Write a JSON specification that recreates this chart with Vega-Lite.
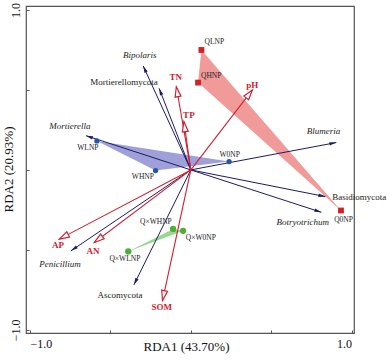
{
  "$schema": "https://vega.github.io/schema/vega-lite/v6.json",
  "width": 328,
  "height": 327,
  "autosize": "none",
  "padding": {"left": 26, "top": 6, "right": 35, "bottom": 30},
  "background": "white",
  "config": {
    "view": {"stroke": "#555", "strokeWidth": 1.2},
    "font": "Liberation Serif",
    "text": {"font": "Liberation Serif"}
  },
  "datasets": {
    "species": [
      {"name": "Bipolaris", "kind": "genus", "x": -0.296, "y": 0.65, "lx": -0.317, "ly": 0.719},
      {"name": "Mortierellomycota", "kind": "phylum", "x": -0.197, "y": 0.51, "lx": -0.416, "ly": 0.55},
      {"name": "Mortierella", "kind": "genus", "x": -0.652, "y": 0.214, "lx": -0.752, "ly": 0.275},
      {"name": "Blumeria", "kind": "genus", "x": 0.905, "y": 0.171, "lx": 0.826, "ly": 0.244},
      {"name": "Basidiomycota", "kind": "phylum", "x": 0.837, "y": -0.167, "lx": 1.047, "ly": -0.169},
      {"name": "Botryotrichum", "kind": "genus", "x": 0.812, "y": -0.265, "lx": 0.696, "ly": -0.325},
      {"name": "Penicillium", "kind": "genus", "x": -0.745, "y": -0.506, "lx": -0.814, "ly": -0.588},
      {"name": "Ascomycota", "kind": "phylum", "x": -0.354, "y": -0.719, "lx": -0.441, "ly": -0.781}
    ],
    "env": [
      {"name": "TN", "x": -0.09, "y": 0.52, "lx": -0.093, "ly": 0.584},
      {"name": "TP", "x": -0.043, "y": 0.302, "lx": -0.012, "ly": 0.344},
      {"name": "pH", "x": 0.383, "y": 0.5, "lx": 0.382, "ly": 0.531},
      {"name": "AP", "x": -0.818, "y": -0.433, "lx": -0.826, "ly": -0.469},
      {"name": "AN", "x": -0.6, "y": -0.454, "lx": -0.609, "ly": -0.506},
      {"name": "SOM", "x": -0.176, "y": -0.817, "lx": -0.18, "ly": -0.856}
    ],
    "sites": [
      {"name": "WLNP", "group": "W", "i": 1, "x": -0.584, "y": 0.181, "lx": -0.64, "ly": 0.1375},
      {"name": "W0NP", "group": "W", "i": 2, "x": 0.238, "y": 0.052, "lx": 0.242, "ly": 0.094},
      {"name": "WHNP", "group": "W", "i": 3, "x": -0.219, "y": -0.004, "lx": -0.298, "ly": -0.044},
      {"name": "QLNP", "group": "Q", "i": 1, "x": 0.066, "y": 0.75, "lx": 0.146, "ly": 0.8},
      {"name": "Q0NP", "group": "Q", "i": 2, "x": 0.934, "y": -0.254, "lx": 0.95, "ly": -0.3125},
      {"name": "QHNP", "group": "Q", "i": 3, "x": 0.045, "y": 0.546, "lx": 0.127, "ly": 0.5875},
      {"name": "Q×WHNP", "group": "QW", "i": 1, "x": -0.11, "y": -0.369, "lx": -0.217, "ly": -0.323},
      {"name": "Q×W0NP", "group": "QW", "i": 2, "x": -0.048, "y": -0.381, "lx": 0.062, "ly": -0.423},
      {"name": "Q×WLNP", "group": "QW", "i": 3, "x": -0.389, "y": -0.51, "lx": -0.41, "ly": -0.556}
    ]
  },
  "layer": [
    {
      "data": {"name": "sites"},
      "transform": [{"filter": "datum.group == 'W'"}],
      "mark": {"type": "line", "fill": "#8e8ed2", "fillOpacity": 0.85, "strokeOpacity": 0},
      "encoding": {
        "x": {
          "field": "x", "type": "quantitative",
          "scale": {"domain": [-1.025, 1.015], "nice": false, "zero": false},
          "axis": {
            "title": "RDA1 (43.70%)", "values": [-1, -0.5, 0, 0.5, 1],
            "labelExpr": "datum.value == 1 ? '1.0' : datum.value == -1 ? '\u22121.0' : ''",
            "grid": false, "domain": false, "ticks": true, "tickSize": -3, "tickColor": "#555", "tickWidth": 1,
            "labelFont": "Liberation Serif", "labelFontSize": 12, "labelColor": "#111",
            "labelBaseline": "alphabetic", "labelPadding": 17, "labelFlush": 8,
            "titleFont": "Liberation Serif", "titleFontSize": 13, "titleFontWeight": "normal", "titleColor": "#111",
            "titleX": 160, "titleY": 17, "titleBaseline": "alphabetic", "titleAlign": "center"
          }
        },
        "y": {
          "field": "y", "type": "quantitative",
          "scale": {"domain": [-1.02, 1.025], "nice": false, "zero": false},
          "axis": {
            "title": "RDA2 (20.93%)", "values": [-1, -0.5, 0, 0.5, 1],
            "labelExpr": "datum.value == 1 ? '1.0' : datum.value == -1 ? '\u22121.0' : ''",
            "grid": false, "domain": false, "ticks": true, "tickSize": -3, "tickColor": "#555", "tickWidth": 1,
            "labelFont": "Liberation Serif", "labelFontSize": 12, "labelColor": "#111",
            "labelAngle": -90, "labelBaseline": "alphabetic", "labelPadding": 10, "labelFlush": 8,
            "titleFont": "Liberation Serif", "titleFontSize": 13, "titleFontWeight": "normal", "titleColor": "#111",
            "titleX": -14, "titleY": 163, "titleAngle": -90, "titleBaseline": "alphabetic", "titleAlign": "center"
          }
        },
        "order": {"field": "i", "type": "quantitative"}
      }
    },
    {
      "data": {"name": "sites"},
      "transform": [{"filter": "datum.group == 'Q'"}],
      "mark": {"type": "line", "fill": "#ef8f8f", "fillOpacity": 0.9, "strokeOpacity": 0},
      "encoding": {
        "x": {"field": "x", "type": "quantitative", "scale": {"domain": [-1.025, 1.015], "nice": false, "zero": false}},
        "y": {"field": "y", "type": "quantitative", "scale": {"domain": [-1.02, 1.025], "nice": false, "zero": false}},
        "order": {"field": "i", "type": "quantitative"}
      }
    },
    {
      "data": {"name": "sites"},
      "transform": [{"filter": "datum.group == 'QW'"}],
      "mark": {"type": "line", "fill": "#8fd68a", "fillOpacity": 0.95, "strokeOpacity": 0},
      "encoding": {
        "x": {"field": "x", "type": "quantitative", "scale": {"domain": [-1.025, 1.015], "nice": false, "zero": false}},
        "y": {"field": "y", "type": "quantitative", "scale": {"domain": [-1.02, 1.025], "nice": false, "zero": false}},
        "order": {"field": "i", "type": "quantitative"}
      }
    },
    {
      "mark": {"type": "rule", "color": "#b0b0b0", "strokeWidth": 0.8},
      "encoding": {
        "x": {"datum": 0, "type": "quantitative", "scale": {"domain": [-1.025, 1.015], "nice": false, "zero": false}}
      }
    },
    {
      "mark": {"type": "rule", "color": "#b0b0b0", "strokeWidth": 0.8},
      "encoding": {
        "y": {"datum": 0, "type": "quantitative", "scale": {"domain": [-1.02, 1.025], "nice": false, "zero": false}}
      }
    },
    {
      "data": {"name": "species"},
      "mark": {"type": "rule", "color": "#1b1b66", "strokeWidth": 1},
      "encoding": {
        "x": {"field": "x", "type": "quantitative", "scale": {"domain": [-1.025, 1.015], "nice": false, "zero": false}},
        "y": {"field": "y", "type": "quantitative", "scale": {"domain": [-1.02, 1.025], "nice": false, "zero": false}},
        "x2": {"datum": 0},
        "y2": {"datum": 0}
      }
    },
    {
      "data": {"name": "env"},
      "mark": {"type": "rule", "color": "#d0222e", "strokeWidth": 1.1},
      "encoding": {
        "x": {"field": "x", "type": "quantitative", "scale": {"domain": [-1.025, 1.015], "nice": false, "zero": false}},
        "y": {"field": "y", "type": "quantitative", "scale": {"domain": [-1.02, 1.025], "nice": false, "zero": false}},
        "x2": {"datum": 0},
        "y2": {"datum": 0}
      }
    },
    {
      "data": {"name": "species"},
      "transform": [{"calculate": "90 - atan2(datum.y * 160, datum.x * 161) * 180 / PI", "as": "ang"}],
      "mark": {"type": "point", "shape": "M0,0L-0.45,1.8L0.45,1.8Z", "size": 60, "filled": true, "color": "#1b1b66", "opacity": 1, "strokeWidth": 0},
      "encoding": {
        "x": {"field": "x", "type": "quantitative", "scale": {"domain": [-1.025, 1.015], "nice": false, "zero": false}},
        "y": {"field": "y", "type": "quantitative", "scale": {"domain": [-1.02, 1.025], "nice": false, "zero": false}},
        "angle": {"field": "ang", "type": "quantitative", "scale": null}
      }
    },
    {
      "data": {"name": "env"},
      "transform": [{"calculate": "90 - atan2(datum.y * 160, datum.x * 161) * 180 / PI", "as": "ang"}],
      "mark": {"type": "point", "shape": "M0,0L-0.5,1.7L0.5,1.7Z", "size": 140, "filled": false, "fill": "white", "fillOpacity": 1, "stroke": "#d0222e", "strokeWidth": 1.2, "opacity": 1},
      "encoding": {
        "x": {"field": "x", "type": "quantitative", "scale": {"domain": [-1.025, 1.015], "nice": false, "zero": false}},
        "y": {"field": "y", "type": "quantitative", "scale": {"domain": [-1.02, 1.025], "nice": false, "zero": false}},
        "angle": {"field": "ang", "type": "quantitative", "scale": null}
      }
    },
    {
      "data": {"name": "sites"},
      "mark": {"type": "point", "filled": true, "opacity": 1},
      "encoding": {
        "x": {"field": "x", "type": "quantitative", "scale": {"domain": [-1.025, 1.015], "nice": false, "zero": false}},
        "y": {"field": "y", "type": "quantitative", "scale": {"domain": [-1.02, 1.025], "nice": false, "zero": false}},
        "color": {"field": "group", "type": "nominal", "scale": {"domain": ["W", "Q", "QW"], "range": ["#2456a8", "#d42027", "#4caf3a"]}, "legend": null},
        "shape": {"field": "group", "type": "nominal", "scale": {"domain": ["W", "Q", "QW"], "range": ["circle", "square", "circle"]}, "legend": null},
        "size": {"field": "group", "type": "nominal", "scale": {"domain": ["W", "Q", "QW"], "range": [28, 40, 18]}, "legend": null}
      }
    },
    {
      "data": {"name": "sites"},
      "mark": {"type": "text", "fontSize": 7.5, "color": "#222", "baseline": "middle", "align": "center"},
      "encoding": {
        "x": {"field": "lx", "type": "quantitative", "scale": {"domain": [-1.025, 1.015], "nice": false, "zero": false}},
        "y": {"field": "ly", "type": "quantitative", "scale": {"domain": [-1.02, 1.025], "nice": false, "zero": false}},
        "text": {"field": "name"}
      }
    },
    {
      "data": {"name": "species"},
      "transform": [{"filter": "datum.kind == 'genus'"}],
      "mark": {"type": "text", "fontSize": 9, "fontStyle": "italic", "color": "#222", "baseline": "middle", "align": "center"},
      "encoding": {
        "x": {"field": "lx", "type": "quantitative", "scale": {"domain": [-1.025, 1.015], "nice": false, "zero": false}},
        "y": {"field": "ly", "type": "quantitative", "scale": {"domain": [-1.02, 1.025], "nice": false, "zero": false}},
        "text": {"field": "name"}
      }
    },
    {
      "data": {"name": "species"},
      "transform": [{"filter": "datum.kind == 'phylum'"}],
      "mark": {"type": "text", "fontSize": 9, "color": "#222", "baseline": "middle", "align": "center"},
      "encoding": {
        "x": {"field": "lx", "type": "quantitative", "scale": {"domain": [-1.025, 1.015], "nice": false, "zero": false}},
        "y": {"field": "ly", "type": "quantitative", "scale": {"domain": [-1.02, 1.025], "nice": false, "zero": false}},
        "text": {"field": "name"}
      }
    },
    {
      "data": {"name": "env"},
      "mark": {"type": "text", "fontSize": 9, "fontWeight": "bold", "color": "#d0222e", "baseline": "middle", "align": "center"},
      "encoding": {
        "x": {"field": "lx", "type": "quantitative", "scale": {"domain": [-1.025, 1.015], "nice": false, "zero": false}},
        "y": {"field": "ly", "type": "quantitative", "scale": {"domain": [-1.02, 1.025], "nice": false, "zero": false}},
        "text": {"field": "name"}
      }
    }
  ]
}
